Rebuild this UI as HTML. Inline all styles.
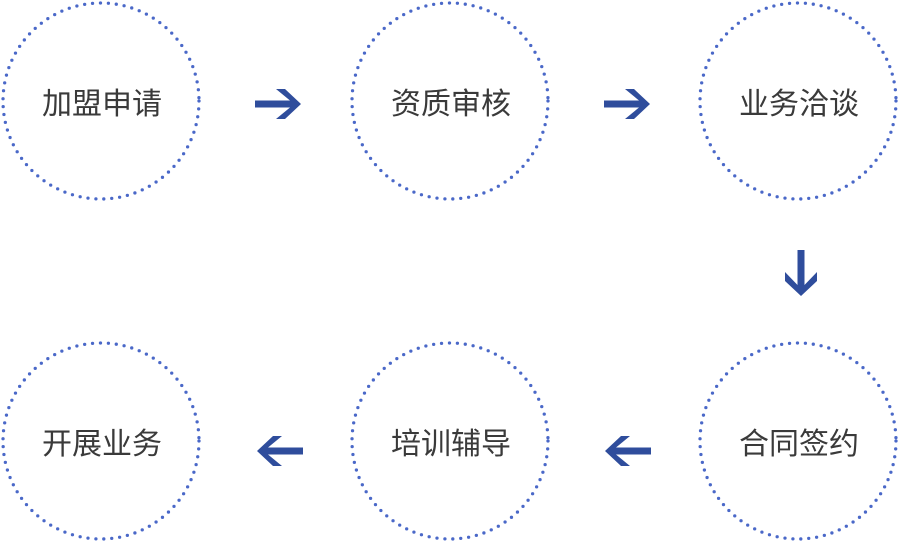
<!DOCTYPE html>
<html><head><meta charset="utf-8"><style>
html,body{margin:0;padding:0;background:#fff;width:899px;height:541px;overflow:hidden}
text{font-family:"Liberation Sans","Noto Sans CJK SC",sans-serif;font-size:30px;fill:#3a3a3a}
</style></head><body>
<svg width="899" height="541" viewBox="0 0 899 541" xmlns="http://www.w3.org/2000/svg">
<g fill="none" stroke="#4a68c8" stroke-width="3.3" stroke-linecap="round" stroke-dasharray="0 7.95">
<circle cx="101" cy="101" r="98"/>
<circle cx="450" cy="101" r="98"/>
<circle cx="798" cy="101" r="98"/>
<circle cx="101" cy="441" r="98"/>
<circle cx="450" cy="441" r="98"/>
<circle cx="798" cy="441" r="98"/>
</g>
<g text-anchor="middle">
<text x="102" y="114">加盟申请</text>
<text x="451" y="114">资质审核</text>
<text x="799" y="114">业务洽谈</text>
<text x="102" y="454">开展业务</text>
<text x="451" y="454">培训辅导</text>
<text x="799" y="454">合同签约</text>
</g>
<g fill="#2f4d9c">
<path d="M255,100.5 H290 L276,89 H285 L301,104 L285,119 H276 L290,107.5 H255 Z"/>
<path d="M604,100.5 H639 L625,89 H634 L650,104 L634,119 H625 L639,107.5 H604 Z"/>
<path d="M797.5,250 V285 L785,272 V281 L801,296 L817,281 V272 L804.5,285 V250 Z"/>
<path d="M303,447.5 H268 L282,436 H273 L257,451 L273,466 H282 L268,454.5 H303 Z"/>
<path d="M651,447.5 H616 L630,436 H621 L605,451 L621,466 H630 L616,454.5 H651 Z"/>
</g>
</svg>
</body></html>
